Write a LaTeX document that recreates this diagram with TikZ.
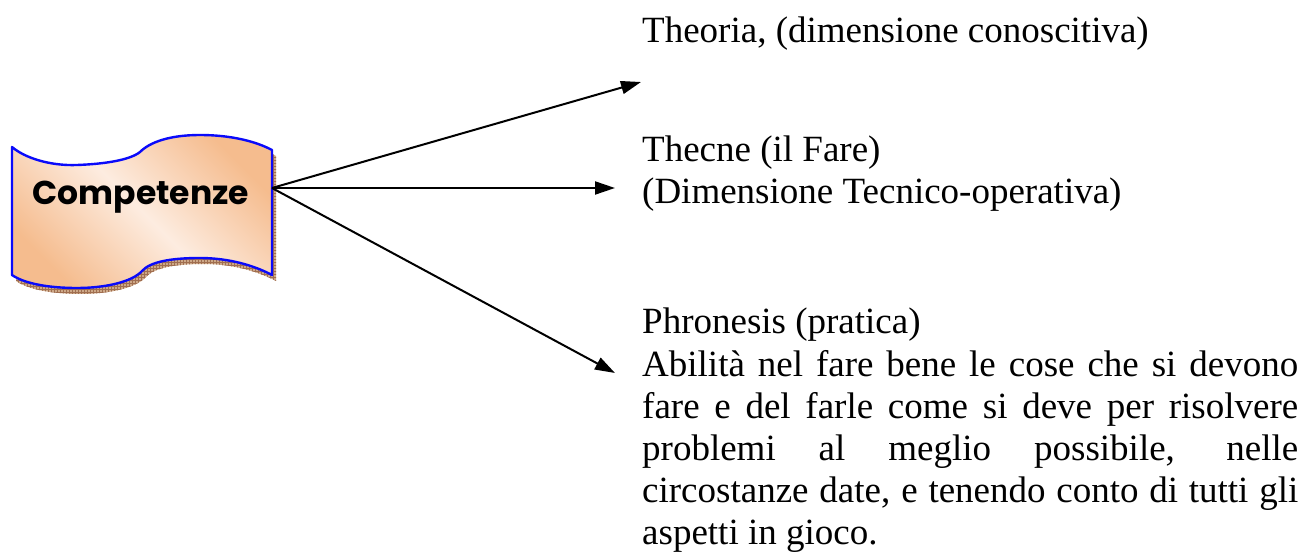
\documentclass[tikz,border=0pt]{standalone}
\usepackage{fontspec}
\setmainfont{Liberation Serif}
\newfontfamily\bannerfont{Poppins}
\usetikzlibrary{arrows.meta,patterns}
\definecolor{peachdark}{RGB}{245,188,142}
\definecolor{peachlight}{RGB}{253,236,224}
\definecolor{shadowtan}{RGB}{205,168,135}
\definecolor{shadowline}{RGB}{160,110,80}
\definecolor{bannerblue}{RGB}{10,10,250}
\tikzset{
  conn/.style={line width=2pt,-{Triangle[length=20pt,width=13pt]}},
  lbl/.style={anchor=base west,inner sep=0pt,font=\fontsize{37}{42}\selectfont},
  bannerlabel/.style={inner sep=0pt,font=\bannerfont\bfseries\fontsize{33}{38}\selectfont}
}
\hyphenpenalty=10000
\begin{document}
\begin{tikzpicture}[x=1pt,y=-1pt]
\useasboundingbox (0,0) rectangle (1304,553);
% shadow of the banner
\def\bannerpath{(12,147) .. controls (25,158) and (50,166) .. (77,165) .. controls (105,164) and (130,160) .. (140,152) .. controls (150,142) and (170,135) .. (200,135) .. controls (230,135) and (255,141) .. (272,150) -- (272,275) .. controls (255,266) and (230,258) .. (200,258) .. controls (170,258) and (150,262) .. (142,271) .. controls (132,282) and (105,288) .. (77,288) .. controls (50,288) and (25,284) .. (12,275) -- cycle}
\begin{scope}[shift={(4,6)}]
\fill[shadowtan] \bannerpath;
\fill[pattern=grid,pattern color=shadowline] \bannerpath;
\end{scope}
% banner body
\shade[shading=axis,top color=peachdark,bottom color=peachdark,middle color=peachlight,shading angle=-45] \bannerpath;
\draw[bannerblue,line width=2.4pt,line join=round] \bannerpath;
\node[bannerlabel,anchor=base] (ban) at (141,205) {Competenze};
\coordinate (src) at (272,188);
\coordinate (t1) at (641,82);
\coordinate (t2) at (615,188);
\coordinate (t3) at (615,373);
\draw[conn] (src) -- (t1);
\draw[conn] (src) -- (t2);
\draw[conn] (src) -- (t3);
% texts
\node[lbl] (theoria) at (642,43) {Theoria, (dimensione conoscitiva)};
\node[lbl] (thecne) at (642,162) {Thecne (il Fare)};
\node[lbl] (dimtec) at (642,204) {(Dimensione Tecnico-operativa)};
\node[lbl] (phron) at (642,334) {Phronesis (pratica)};
\node[lbl,anchor=north west,text width=656pt,align=justify] (abil) at (642,350.5) {Abilità nel fare bene le cose che si devono\linebreak fare e del farle come si deve per risolvere\linebreak problemi al meglio possibile, nelle\linebreak circostanze date, e tenendo conto di tutti gli\linebreak aspetti in gioco.};
\end{tikzpicture}
\end{document}
